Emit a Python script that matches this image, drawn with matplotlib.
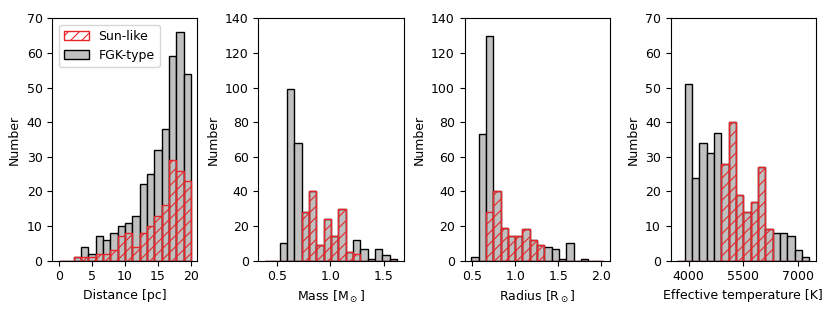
import numpy as np
import matplotlib
matplotlib.use("Agg")
import matplotlib.pyplot as plt

# Bin ranges (18 bins each)
N_BINS = 18
dist_range = (0.0, 20.0)
mass_range = (0.39, 1.625)
radius_range = (0.49, 2.02)
teff_range = (3690.0, 7300.0)

# Counts per bin: FGK-type (all) and Sun-like subset
dist_fgk = [0, 0, 1, 4, 2, 7, 6, 8, 10, 11, 13, 22, 25, 32, 38, 59, 66, 54]
dist_sun = [0, 0, 1, 1, 1, 2, 2, 3, 7, 8, 4, 8, 10, 13, 16, 29, 26, 23]

mass_fgk = [0, 0, 10, 99, 68, 28, 40, 9, 24, 14, 30, 5, 12, 7, 1, 7, 3, 1]
mass_sun = [0, 0, 0, 0, 0, 28, 40, 9, 24, 14, 30, 5, 4, 0, 0, 0, 0, 0]

radius_fgk = [2, 73, 130, 40, 19, 14, 14, 18, 12, 9, 8, 7, 1, 10, 0, 1, 0, 0]
radius_sun = [0, 0, 28, 40, 19, 14, 14, 18, 12, 9, 0, 0, 0, 0, 0, 0, 0, 0]

teff_fgk = [0, 51, 24, 34, 31, 37, 28, 40, 19, 14, 17, 27, 9, 8, 8, 7, 3, 1]
teff_sun = [0, 0, 0, 0, 0, 0, 28, 40, 19, 14, 17, 27, 9, 0, 0, 0, 0, 0]

dist_ticks = [0, 5, 10, 15, 20]
mass_ticks = [0.5, 1.0, 1.5]
radius_ticks = [0.5, 1.0, 1.5, 2.0]
teff_ticks = [4000, 5500, 7000]

panels = [
    (dist_range, dist_fgk, dist_sun, "Distance [pc]", 70, dist_ticks),
    (mass_range, mass_fgk, mass_sun, r"Mass [M$_\odot$]", 140, mass_ticks),
    (radius_range, radius_fgk, radius_sun, r"Radius [R$_\odot$]", 140, radius_ticks),
    (teff_range, teff_fgk, teff_sun, "Effective temperature [K]", 70, teff_ticks),
]

plt.rcParams["font.size"] = 9
plt.rcParams["hatch.linewidth"] = 0.8

fig, axes = plt.subplots(1, 4, figsize=(8.3, 3.11), dpi=100)
fig.subplots_adjust(left=0.063, right=0.983, bottom=0.162, top=0.941, wspace=0.42)

RED = "#e8262a"

for ax, (rng, fgk, sun, xlabel, ymax, xticks) in zip(axes, panels):
    edges = np.linspace(rng[0], rng[1], N_BINS + 1)
    centers = 0.5 * (edges[:-1] + edges[1:])
    ax.hist(centers, bins=edges, weights=fgk, facecolor="silver",
            edgecolor="black", linewidth=1.0, label="FGK-type")
    ax.hist(centers, bins=edges, weights=sun, facecolor="none",
            edgecolor=RED, hatch="///", linewidth=1.0, label="Sun-like")
    ax.set_ylim(0, ymax)
    ax.set_xticks(xticks)
    ax.set_xlabel(xlabel)
    ax.set_ylabel("Number")

handles, labels = axes[0].get_legend_handles_labels()
axes[0].legend(handles[::-1], labels[::-1], loc="upper left")

plt.savefig("out.png")
